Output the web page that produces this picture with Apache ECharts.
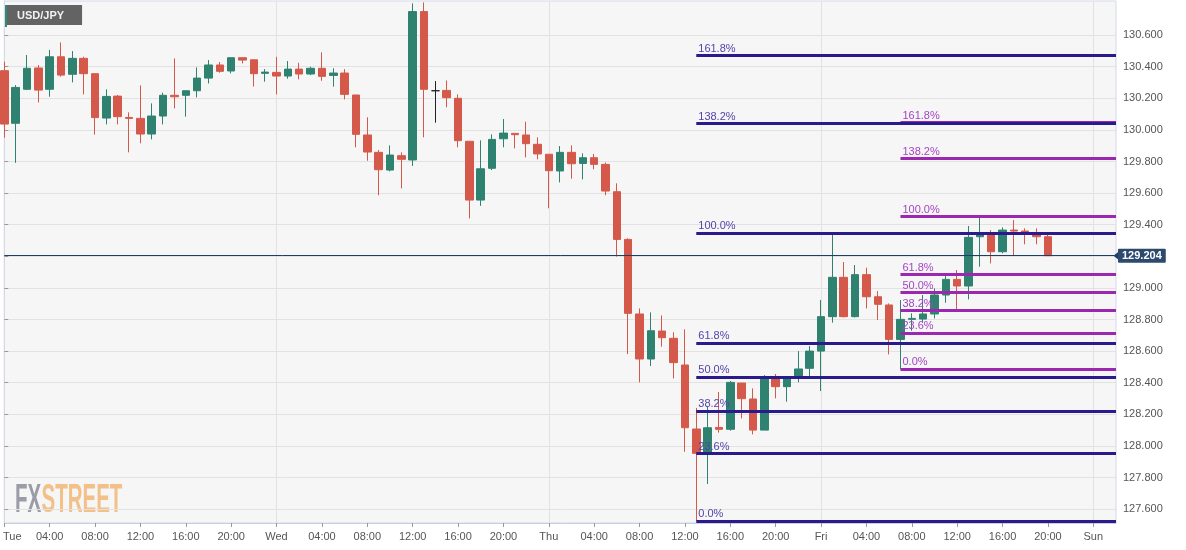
<!DOCTYPE html>
<html><head><meta charset="utf-8">
<script src="https://cdn.jsdelivr.net/npm/echarts@6/dist/echarts.min.js"></script>
<style>html,body{margin:0;padding:0;background:#fff}#c{width:1186px;height:550px}</style>
</head><body><div id="c"></div>
<script>
// Hourly USD/JPY candles, Tue 00:00 .. Fri 20:00 (hour index 0..92)
const opens = [130.375,130.042,130.257,130.392,130.257,130.463,130.352,130.453,130.356,130.075,
130.214,130.079,130.073,129.974,130.088,130.219,130.219,130.248,130.328,130.411,
130.373,130.457,130.444,130.358,130.364,130.341,130.385,130.354,130.390,130.345,
130.360,130.221,129.968,129.858,129.746,129.837,129.810,130.749,130.248,130.250,
130.200,129.928,129.556,129.757,129.944,129.978,129.968,129.909,129.846,129.740,
129.858,129.788,129.824,129.782,129.609,129.307,128.835,128.550,128.727,128.681,
128.512,128.107,127.953,128.117,128.105,128.398,128.297,128.100,128.423,128.375,
128.438,128.491,128.600,128.818,129.067,128.818,129.084,128.944,128.892,128.674,
128.801,128.803,128.835,128.955,129.054,129.012,129.324,129.337,129.229,129.366,
129.360,129.351,129.324];
const closes = [130.037,130.269,130.390,130.252,130.463,130.347,130.453,130.356,130.078,130.212,
130.084,130.073,129.974,130.088,130.219,130.210,130.248,130.328,130.411,130.371,
130.457,130.442,130.356,130.366,130.341,130.385,130.354,130.390,130.339,130.360,
130.225,129.972,129.860,129.748,129.841,129.814,130.749,130.257,130.248,130.204,
129.932,129.556,129.754,129.940,129.980,129.970,129.913,129.848,129.742,129.858,
129.786,129.824,129.782,129.613,129.307,128.839,128.550,128.729,128.685,128.527,
128.115,127.953,128.115,128.105,128.402,128.299,128.100,128.423,128.375,128.423,
128.487,128.600,128.818,129.067,128.818,129.084,128.944,128.896,128.674,128.801,
128.807,128.835,128.955,129.054,129.012,129.320,129.337,129.229,129.366,129.360,
129.351,129.324,129.204];
const lows = [129.951,129.792,130.252,130.174,130.210,130.337,130.301,130.225,129.970,130.035,
130.035,129.858,129.915,129.940,130.035,130.136,130.084,130.206,130.294,130.362,
130.358,130.421,130.274,130.305,130.225,130.324,130.320,130.347,130.311,130.274,
130.193,129.890,129.805,129.586,129.738,129.630,129.772,129.953,130.046,130.143,
129.890,129.440,129.519,129.746,129.890,129.883,129.826,129.814,129.504,129.668,
129.691,129.687,129.751,129.586,129.198,128.581,128.402,128.506,128.628,128.427,
127.963,127.525,127.759,128.084,128.096,128.174,128.073,128.100,128.301,128.280,
128.402,128.442,128.347,128.780,128.813,128.813,128.870,128.797,128.579,128.487,
128.729,128.782,128.807,128.906,128.864,128.927,129.134,129.155,129.219,129.202,
129.276,129.276,129.204];
const highs = [130.432,130.284,130.474,130.411,130.506,130.554,130.499,130.463,130.356,130.257,
130.221,130.111,130.282,130.168,130.236,130.453,130.248,130.396,130.442,130.430,
130.457,130.457,130.444,130.385,130.463,130.436,130.425,130.400,130.491,130.390,
130.385,130.221,130.080,129.873,129.902,129.858,130.801,130.807,130.309,130.313,
130.225,129.928,129.934,129.972,130.069,129.978,130.052,129.953,129.846,129.898,
129.902,129.852,129.848,129.794,129.662,129.314,128.870,128.845,128.826,128.719,
128.738,128.240,128.248,128.341,128.411,128.398,128.364,128.448,128.455,128.423,
128.600,128.632,128.923,129.349,129.164,129.145,129.128,128.980,128.902,128.923,
128.839,128.955,128.997,129.092,129.113,129.392,129.453,129.366,129.383,129.430,
129.377,129.377,129.351];

// Axis ticks
const xTickPos = [0,4,8,12,16,20,24,28,32,36,40,44,48,52,56,60,64,68,72,76,80,84,88,92,96];
const xTickLabels = ['Tue','04:00','08:00','12:00','16:00','20:00','Wed','04:00','08:00','12:00','16:00','20:00',
  'Thu','04:00','08:00','12:00','16:00','20:00','Fri','04:00','08:00','12:00','16:00','20:00','Sun'];
const dayBreaks = [24,48,72,96];
const yTicks = [127.6,127.8,128.0,128.2,128.4,128.6,128.8,129.0,129.2,129.4,129.6,129.8,130.0,130.2,130.4,130.6];

// Fibonacci levels
const fibRatios = ['0.0%','23.6%','38.2%','50.0%','61.8%','100.0%','138.2%','161.8%'];
const fibBlueLevels = [127.525,127.955,128.222,128.437,128.652,129.349,130.040,130.470];
const fibPurpleLevels = [128.487,128.715,128.856,128.970,129.084,129.453,129.822,130.050];
const fibBlueStart = 61, fibPurpleStart = 79;

const X_MAX = 98;
const lastPrice = closes[closes.length - 1];

const main = [], doji = [];
for (let i = 0; i < opens.length; i++) {
  const it = [i, opens[i], closes[i], lows[i], highs[i]];
  (opens[i] === closes[i] ? doji : main).push(it);
}

const FONT = '"Liberation Sans", Arial, sans-serif';
const markData = [];
fibPurpleLevels.forEach((v, k) => markData.push([
  {coord: [fibPurpleStart, v], name: fibRatios[k], lineStyle: {color: '#9c27b0', width: 3, type: 'solid'},
   label: {color: '#a545c4'}},
  {coord: [X_MAX, v]}
]));
fibBlueLevels.forEach((v, k) => markData.push([
  {coord: [fibBlueStart, v], name: fibRatios[k], lineStyle: {color: '#2a1a8c', width: 3, type: 'solid'},
   label: {color: '#5443ab'}},
  {coord: [X_MAX, v]}
]));
markData.push([
  {coord: [0, lastPrice], name: 'last', symbol: 'none',
   lineStyle: {color: '#1f3d66', width: 1, type: 'solid'},
   label: {position: 'end', formatter: () => lastPrice.toFixed(3), color: '#fff', fontWeight: 'bold',
     fontSize: 11, backgroundColor: '#2c4a6e', padding: [2, 4, 1, 4], distance: 2, borderRadius: 1}},
  {coord: [X_MAX, lastPrice], symbol: 'path://M0,0L10,0L5,10Z', symbolSize: [8, 5]}
]);

const chart = echarts.init(document.getElementById('c'), null, {renderer: 'canvas'});
chart.setOption({
  animation: false,
  backgroundColor: '#fff',
  textStyle: {fontFamily: FONT},
  title: {
    text: 'USD/JPY', left: 5, top: 5, backgroundColor: '#636363', padding: [5, 18, 4, 12],
    textStyle: {color: '#f2f2f2', fontSize: 11, fontWeight: 'bold', fontFamily: FONT}
  },
  graphic: [
    {type: 'rect', left: 5, top: 5, z: 100, shape: {width: 2, height: 22}, style: {fill: '#2e8b74'}},
    {type: 'group', x: 15, y: 480, scaleX: 0.5, z: 1, children: [
      {type: 'text', x: 0, y: 0, style: {text: 'FX', font: 'bold 41px ' + FONT, fill: '#9a9ca6', verticalAlign: 'top'}},
      {type: 'text', x: 53, y: 0, style: {text: 'STREET', font: 'bold 41px ' + FONT, fill: '#f2c088', verticalAlign: 'top'}}
    ]}
  ],
  grid: {left: 1, right: 70, top: 1, bottom: 27, show: true, backgroundColor: '#f6f6f6',
    borderColor: '#d3d9e6', borderWidth: 1},
  xAxis: [{
    type: 'value', min: 0, max: X_MAX, position: 'bottom',
    axisLine: {show: true, lineStyle: {color: '#c8cfe3'}},
    axisTick: {show: true, length: 4, customValues: xTickPos, lineStyle: {color: '#999'}},
    axisLabel: {
      customValues: xTickPos, fontSize: 11, color: '#555', margin: 8, fontFamily: FONT,
      formatter: (v) => {
        const k = xTickPos.indexOf(Math.round(v));
        const t = k >= 0 ? xTickLabels[k] : '';
        return k === 0 ? '{first|' + t + '}' : t;
      },
      rich: {first: {padding: [0, 0, 0, 16], fontSize: 11, color: '#555', fontFamily: FONT}}
    },
    splitLine: {show: false}
  }, {
    type: 'value', min: 0, max: X_MAX, position: 'bottom',
    axisLine: {show: false}, axisLabel: {show: false},
    axisTick: {show: false, customValues: dayBreaks},
    splitLine: {show: true, lineStyle: {color: '#e2e2e2', width: 1}}
  }],
  yAxis: {
    type: 'value', position: 'right', min: 127.512, max: 130.816,
    axisLine: {show: true, lineStyle: {color: '#d3d9e6'}},
    axisTick: {show: true, length: 4, customValues: yTicks, lineStyle: {color: '#999'}},
    axisLabel: {customValues: yTicks, fontSize: 11, color: '#555', margin: 7, fontFamily: FONT,
      formatter: (v) => v.toFixed(3)},
    splitLine: {show: true, lineStyle: {color: '#e2e2e2', width: 1}}
  },
  series: [{
    type: 'candlestick', name: 'USD/JPY', xAxisIndex: 0, data: main, barWidth: 8,
    itemStyle: {color: '#2f8270', color0: '#d5594a', borderColor: '#2f8270', borderColor0: '#d5594a', borderWidth: 1},
    markLine: {
      silent: true, symbol: ['none', 'none'], animation: false,
      label: {show: true, position: 'insideStartTop', formatter: '{b}', fontSize: 11, distance: [2, 1], fontFamily: FONT},
      data: markData
    }
  }, {
    type: 'candlestick', name: 'doji', xAxisIndex: 0, data: doji, barWidth: 8,
    itemStyle: {color: '#222', color0: '#222', borderColor: '#222', borderColor0: '#222', borderWidth: 1}
  }]
});
</script>
</body></html>
